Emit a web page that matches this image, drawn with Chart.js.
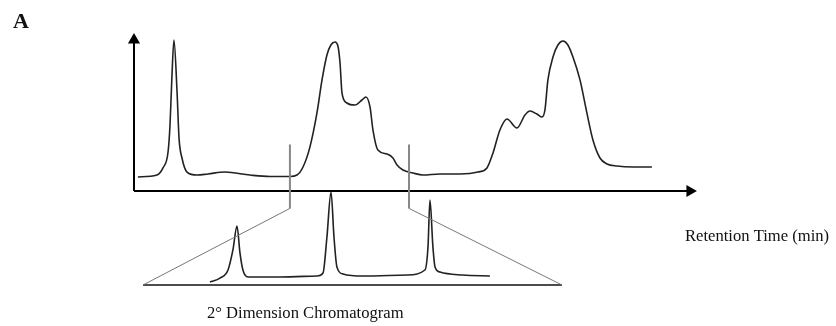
<!DOCTYPE html>
<html>
<head>
<meta charset="utf-8">
<script src="https://cdn.jsdelivr.net/npm/chart.js@4/dist/chart.umd.min.js"></script>
<style>
  html, body { margin: 0; padding: 0; background: #fff; }
  #wrap { width: 836px; height: 326px; }
</style>
</head>
<body>
<div id="wrap"><canvas id="chart" width="836" height="326"></canvas></div>
<script>
// first dimension chromatogram (retention time, signal)
const mainTime = [0.28, 1.63, 2.06, 2.42, 2.56, 2.70, 2.84, 3.06, 3.20, 3.41, 3.77, 4.48, 5.26, 6.47, 8.24, 9.66, 11.08,
  11.58, 12.01, 12.50, 13.00, 13.36, 13.71, 13.99, 14.28, 14.49, 14.64, 14.78, 15.13, 15.70, 16.20, 16.48, 16.77, 16.98, 17.33,
  17.98, 18.40, 18.69, 19.11, 19.82, 20.53, 21.74, 23.16, 24.44, 25.08, 25.51, 26.00, 26.50, 27.21, 27.78, 28.13, 28.63,
  28.99, 29.20, 29.41, 29.77, 30.12, 30.48, 30.83, 31.19, 31.69, 32.18, 32.61, 33.11, 33.61, 34.32, 35.45, 36.80]
const mainSignal = [8.9, 10.1, 14.6, 24.7, 41.8, 73.4, 95.6, 62.7, 33.5, 20.9, 12.0, 10.1, 10.8, 12.0, 10.1, 9.2, 9.2,
  10.1, 15.2, 27.8, 49.4, 70.3, 86.1, 92.4, 94.3, 91.8, 81.0, 62.0, 55.7, 54.4, 57.6, 59.5, 53.2, 38.6, 25.9,
  23.4, 20.9, 16.5, 13.3, 11.4, 10.1, 10.8, 10.8, 12.0, 14.6, 24.1, 38.6, 45.6, 39.9, 48.1, 50.6, 48.7,
  46.8, 51.3, 70.3, 84.8, 92.4, 94.9, 92.4, 84.8, 70.3, 49.4, 32.3, 20.9, 17.1, 15.8, 15.2, 15.2]

// second dimension chromatogram, drawn below the axis
const insetTime = [5.40, 6.11, 6.68, 7.03, 7.32, 7.53, 7.74, 8.10, 10.37, 13.00, 13.43, 13.71, 14.00, 14.21, 14.42,
  14.85, 16.27, 19.40, 20.67, 20.89, 21.03, 21.24, 21.39, 21.74, 23.37, 25.29]
const insetSignal = [-57.6, -55.1, -50.0, -37.3, -22.2, -39.2, -50.0, -54.4, -54.4, -53.8, -51.9, -29.1, -0.6, -29.1, -48.1,
  -52.5, -53.8, -53.2, -50.0, -35.4, -5.7, -35.4, -48.1, -51.3, -53.2, -53.8]

// heart-cut window and the zoom funnel
const cutStart = 11.08
const cutEnd = 19.54
const cutTop = 29.4
const cutBottom = -11.0
const funnelLeft = 0.64
const funnelRight = 30.41
const funnelLevel = -59.5

// axes
const axisEndX = 39.5
const axisEndY = 95.6

const xAxisLabel = 'Retention Time (min)'
const insetLabel = '2\u00b0 Dimension Chromatogram'
const panelLabel = 'A'

const pts = (xs, ys) => xs.map((x, i) => ({ x: x, y: ys[i] }))

const lineStyle = (color, width) => ({
  borderColor: color,
  borderWidth: width,
  pointRadius: 0,
  fill: false,
  tension: 0
})

const labelsPlugin = {
  id: 'labels',
  afterDraw(chart) {
    const ctx = chart.ctx
    const xs = chart.scales.x
    const ys = chart.scales.y
    ctx.save()
    ctx.fillStyle = '#111'
    ctx.textBaseline = 'alphabetic'
    ctx.textAlign = 'left'
    ctx.font = '16.6px "Liberation Serif", "Times New Roman", serif'
    ctx.fillText(xAxisLabel, xs.getPixelForValue(39.15), ys.getPixelForValue(-31.6))
    ctx.fillText(insetLabel, xs.getPixelForValue(5.19), ys.getPixelForValue(-80.4))
    ctx.font = 'bold 22px "Liberation Serif", "Times New Roman", serif'
    ctx.fillText(panelLabel, xs.getPixelForValue(-8.6), ys.getPixelForValue(103.2))
    ctx.restore()
  }
}

new Chart(document.getElementById('chart'), {
  type: 'line',
  data: {
    datasets: [
      // funnel diagonals
      { ...lineStyle('#777', 1), data: [{ x: cutStart, y: cutBottom }, { x: funnelLeft, y: funnelLevel }] },
      { ...lineStyle('#777', 1), data: [{ x: cutEnd, y: cutBottom }, { x: funnelRight, y: funnelLevel }] },
      { ...lineStyle('#111', 1.6), data: [{ x: funnelLeft, y: funnelLevel }, { x: funnelRight, y: funnelLevel }] },
      // cut markers
      { ...lineStyle('#888', 2), data: [{ x: cutStart, y: cutTop }, { x: cutStart, y: cutBottom }] },
      { ...lineStyle('#888', 2), data: [{ x: cutEnd, y: cutTop }, { x: cutEnd, y: cutBottom }] },
      // chromatograms
      { ...lineStyle('#222', 1.6), cubicInterpolationMode: 'monotone', data: pts(mainTime, mainSignal) },
      { ...lineStyle('#222', 1.6), cubicInterpolationMode: 'monotone', data: pts(insetTime, insetSignal) },
      // axes with arrow heads
      {
        ...lineStyle('#000', 2),
        data: [{ x: 0, y: 0 }, { x: axisEndX, y: 0 }],
        pointRadius: ctx => ctx.dataIndex === 1 ? 7 : 0,
        pointStyle: 'triangle',
        pointRotation: 90,
        pointBackgroundColor: '#000',
        pointBorderColor: '#000',
        pointBorderWidth: 0
      },
      {
        ...lineStyle('#000', 2),
        data: [{ x: 0, y: 0 }, { x: 0, y: axisEndY }],
        pointRadius: ctx => ctx.dataIndex === 1 ? 7 : 0,
        pointStyle: 'triangle',
        pointRotation: 0,
        pointBackgroundColor: '#000',
        pointBorderColor: '#000',
        pointBorderWidth: 0
      }
    ]
  },
  options: {
    responsive: false,
    animation: false,
    events: [],
    layout: { padding: 0, autoPadding: false },
    plugins: {
      legend: { display: false },
      tooltip: { enabled: false }
    },
    scales: {
      x: { type: 'linear', min: -9.52, max: 49.88, display: false },
      y: { type: 'linear', min: -85.44, max: 120.89, display: false }
    }
  },
  plugins: [labelsPlugin]
})
</script>
</body>
</html>
